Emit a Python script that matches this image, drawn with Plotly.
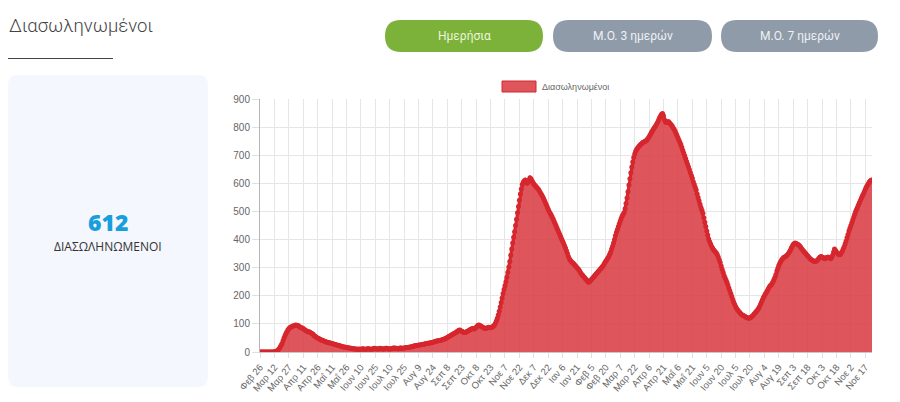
import pandas as pd
import plotly.graph_objects as go

# ---------------- data ----------------
start_date = "2020-02-26"
intubated = [
    0, 0, 0, 0, 0, 0, 0,
    0, 0, 0, 0, 0, 0, 0,
    0, 1, 2, 3, 5, 8, 12,
    18, 24, 30, 40, 50, 58, 66,
    72, 78, 83, 86, 89, 90, 92,
    93, 94, 96, 95, 94, 93, 90,
    88, 86, 85, 84, 80, 78, 76,
    74, 72, 72, 70, 68, 66, 64,
    60, 57, 54, 52, 50, 48, 46,
    44, 43, 42, 40, 38, 37, 36,
    35, 34, 33, 32, 31, 30, 29,
    28, 27, 26, 25, 24, 23, 22,
    21, 20, 19, 18, 18, 17, 16,
    15, 15, 14, 13, 13, 12, 12,
    12, 11, 11, 10, 10, 11, 10,
    10, 11, 12, 11, 10, 10, 11,
    12, 12, 11, 10, 10, 11, 12,
    13, 12, 12, 11, 11, 12, 13,
    12, 12, 11, 11, 12, 13, 13,
    12, 11, 11, 12, 12, 13, 14,
    14, 13, 13, 12, 12, 13, 14,
    14, 13, 13, 14, 15, 15, 16,
    16, 17, 18, 18, 19, 20, 21,
    22, 22, 23, 24, 24, 25, 26,
    26, 27, 28, 28, 29, 30, 30,
    31, 32, 32, 33, 34, 35, 36,
    37, 38, 39, 40, 40, 41, 42,
    43, 44, 45, 46, 48, 50, 52,
    54, 56, 58, 60, 62, 64, 66,
    68, 70, 72, 75, 77, 78, 76,
    74, 72, 70, 69, 70, 72, 74,
    76, 78, 80, 82, 84, 83, 82,
    84, 88, 92, 95, 96, 94, 92,
    90, 88, 86, 84, 84, 85, 86,
    88, 87, 86, 88, 90, 92, 96,
    102, 110, 120, 132, 145, 160, 176,
    192, 208, 222, 236, 250, 266, 284,
    302, 322, 344, 366, 388, 408, 428,
    450, 472, 495, 518, 540, 562, 580,
    596, 604, 608, 612, 606, 600, 604,
    612, 620, 616, 610, 604, 598, 594,
    590, 586, 582, 578, 572, 566, 560,
    554, 548, 540, 532, 524, 516, 508,
    500, 494, 488, 481, 474, 466, 458,
    450, 442, 434, 426, 418, 410, 402,
    394, 386, 378, 370, 360, 350, 340,
    332, 326, 322, 318, 316, 312, 308,
    304, 300, 296, 292, 286, 280, 276,
    272, 268, 264, 260, 256, 252, 248,
    250, 254, 258, 262, 266, 270, 274,
    278, 282, 286, 290, 294, 298, 302,
    306, 312, 318, 324, 328, 334, 340,
    348, 356, 366, 376, 388, 400, 414,
    426, 436, 446, 456, 466, 476, 484,
    490, 496, 510, 528, 548, 570, 594,
    616, 638, 658, 676, 692, 704, 714,
    720, 726, 730, 734, 738, 740, 744,
    746, 748, 750, 752, 756, 760, 766,
    772, 778, 784, 790, 796, 800, 806,
    812, 818, 826, 834, 840, 846, 848,
    840, 826, 818, 816, 818, 820, 816,
    812, 808, 804, 798, 792, 786, 778,
    770, 762, 754, 746, 738, 728, 718,
    708, 698, 688, 678, 668, 658, 648,
    638, 628, 618, 606, 596, 586, 576,
    562, 550, 538, 526, 514, 504, 494,
    478, 462, 446, 430, 416, 402, 392,
    384, 376, 370, 364, 360, 356, 352,
    346, 338, 328, 318, 306, 294, 284,
    272, 264, 256, 248, 238, 228, 218,
    208, 198, 188, 178, 170, 162, 156,
    150, 146, 142, 138, 134, 132, 130,
    128, 126, 124, 122, 121, 120, 122,
    124, 126, 130, 134, 138, 142, 146,
    150, 156, 162, 170, 178, 186, 194,
    200, 206, 212, 218, 224, 230, 236,
    238, 244, 250, 258, 266, 276, 288,
    298, 308, 316, 322, 328, 332, 336,
    338, 340, 342, 346, 350, 356, 362,
    370, 376, 382, 386, 388, 386, 384,
    382, 380, 376, 372, 366, 362, 358,
    354, 350, 346, 342, 338, 334, 330,
    328, 326, 324, 322, 322, 324, 326,
    330, 334, 338, 340, 338, 336, 334,
    332, 334, 336, 338, 336, 334, 332,
    336, 344, 356, 366, 362, 356, 352,
    348, 346, 348, 352, 358, 366, 374,
    384, 394, 406, 418, 430, 440, 450,
    460, 470, 480, 490, 500, 508, 516,
    524, 532, 540, 548, 556, 562, 570,
    578, 586, 592, 598, 604, 608, 611,
    612,
]
tick_labels = ["Φεβ 26", "Μαρ 12", "Μαρ 27", "Απρ 11", "Απρ 26", "Μαΐ 11", "Μαΐ 26",
               "Ιουν 10", "Ιουν 25", "Ιουλ 10", "Ιουλ 25", "Αυγ 9", "Αυγ 24", "Σεπ 8",
               "Σεπ 23", "Οκτ 8", "Οκτ 23", "Νοε 7", "Νοε 22", "Δεκ 7", "Δεκ 22",
               "Ιαν 6", "Ιαν 21", "Φεβ 5", "Φεβ 20", "Μαρ 7", "Μαρ 22", "Απρ 6",
               "Απρ 21", "Μαΐ 6", "Μαΐ 21", "Ιουν 5", "Ιουν 20", "Ιουλ 5", "Ιουλ 20",
               "Αυγ 4", "Αυγ 19", "Σεπ 3", "Σεπ 18", "Οκτ 3", "Οκτ 18", "Νοε 2", "Νοε 17"]
series_name = "Διασωληνωμένοι"
page_title = "Διασωληνωμένοι"
current_value = "612"
card_label = "ΔΙΑΣΩΛΗΝΩΜΕΝΟΙ"
buttons = ["Ημερήσια", "Μ.Ο. 3 ημερών", "Μ.Ο. 7 ημερών"]

dates = [d.strftime("%Y-%m-%d") for d in pd.date_range(start_date, periods=len(intubated))]
tick_step = 15
tick_vals = dates[::tick_step][:len(tick_labels)]

# ---------------- layout geometry (pixels) ----------------
W_, H_ = 900, 402
L, R, T, B = 260, 872, 99, 352
PW, PH = R - L, B - T


def px(x):
    return (x - L) / PW


def py(y):
    return (B - y) / PH


def rrect(x0, y0, x1, y1, r):
    pts = [
        ("M", x0 + r, y0), ("L", x1 - r, y0), ("Q", x1, y0, x1, y0 + r),
        ("L", x1, y1 - r), ("Q", x1, y1, x1 - r, y1), ("L", x0 + r, y1),
        ("Q", x0, y1, x0, y1 - r), ("L", x0, y0 + r), ("Q", x0, y0, x0 + r, y0),
    ]
    out = []
    for p in pts:
        cmd = p[0]
        coords = p[1:]
        s = []
        for i in range(0, len(coords), 2):
            s.append(f"{px(coords[i]):.5f},{py(coords[i + 1]):.5f}")
        out.append(cmd + " " + " ".join(s))
    return " ".join(out) + " Z"


line_red = "rgb(214,38,46)"
fill_red = "rgba(218,62,70,0.88)"

fig = go.Figure()
fig.add_trace(go.Scatter(
    x=dates, y=intubated, mode="lines+markers", name=series_name,
    line=dict(color=line_red, width=3),
    marker=dict(color=line_red, size=5),
    fill="tozeroy", fillcolor=fill_red, showlegend=False, hoverinfo="x+y",
))

shapes = []
annotations = []

# left card
shapes.append(dict(type="path", xref="paper", yref="paper", path=rrect(8, 75, 208, 387, 10),
                   fillcolor="#f4f7fd", line=dict(width=0), layer="below"))
# title underline
shapes.append(dict(type="line", xref="paper", yref="paper", x0=px(8), x1=px(113), y0=py(58.5), y1=py(58.5),
                   line=dict(color="#444", width=1)))
# buttons
btn_boxes = [(385, 543), (553, 712), (721, 878)]
btn_colors = ["rgb(124,178,58)", "rgb(143,155,168)", "rgb(143,155,168)"]
btn_text_colors = ["#eaf5dc", "#eef1f5", "#eef1f5"]
for (bx0, bx1), bc, tc, label in zip(btn_boxes, btn_colors, btn_text_colors, buttons):
    shapes.append(dict(type="path", xref="paper", yref="paper", path=rrect(bx0, 20, bx1, 52, 16),
                       fillcolor=bc, line=dict(width=0)))
    annotations.append(dict(xref="paper", yref="paper", x=px((bx0 + bx1) / 2), y=py(36), text=label,
                            showarrow=False, xanchor="center", yanchor="middle",
                            font=dict(family="Roboto", size=12, color=tc)))
# legend box
shapes.append(dict(type="rect", xref="paper", yref="paper", x0=px(502), x1=px(536), y0=py(81), y1=py(92),
                   fillcolor=fill_red, line=dict(color=line_red, width=1)))
annotations.append(dict(xref="paper", yref="paper", x=px(540), y=py(86.5), text=series_name, showarrow=False,
                        xanchor="left", yanchor="middle",
                        font=dict(family="Liberation Sans", size=9, color="#666")))
# title
annotations.append(dict(xref="paper", yref="paper", x=px(7), y=py(26), text=page_title, showarrow=False,
                        xanchor="left", yanchor="middle",
                        font=dict(family="Roboto", size=18.5, color="#444", weight=300)))
# card texts
annotations.append(dict(xref="paper", yref="paper", x=px(108), y=py(222), text=current_value, showarrow=False,
                        xanchor="center", yanchor="middle",
                        font=dict(family="Open Sans", size=23, color="rgb(24,158,219)", weight=800)))
annotations.append(dict(xref="paper", yref="paper", x=px(108), y=py(246), text=card_label, showarrow=False,
                        xanchor="center", yanchor="middle",
                        font=dict(family="Open Sans", size=12, color="#333")))

fig.update_layout(
    width=W_, height=H_,
    margin=dict(l=L, r=W_ - R, t=T, b=H_ - B, pad=0),
    paper_bgcolor="white", plot_bgcolor="white",
    shapes=shapes, annotations=annotations, showlegend=False,
    xaxis=dict(type="category", range=[0, len(dates) - 1], tickmode="array",
               tickvals=tick_vals, ticktext=tick_labels, tickangle=-50,
               showgrid=True, gridcolor="#e6e6e6", gridwidth=1,
               showline=True, linecolor="#c8c8c8", ticks="outside", ticklen=5, tickcolor="#e0e0e0",
               tickfont=dict(family="Liberation Sans", size=9.5, color="#666"), automargin=False,
               zeroline=False),
    yaxis=dict(range=[0, 900], dtick=100, tick0=0, showgrid=True, gridcolor="#e6e6e6", gridwidth=1,
               showline=True, linecolor="#b5b5b5", ticks="outside", ticklen=7, tickcolor="#e0e0e0",
               tickfont=dict(family="Liberation Sans", size=10, color="#666"), automargin=False,
               zeroline=False),
)

fig.write_html("out.html")
